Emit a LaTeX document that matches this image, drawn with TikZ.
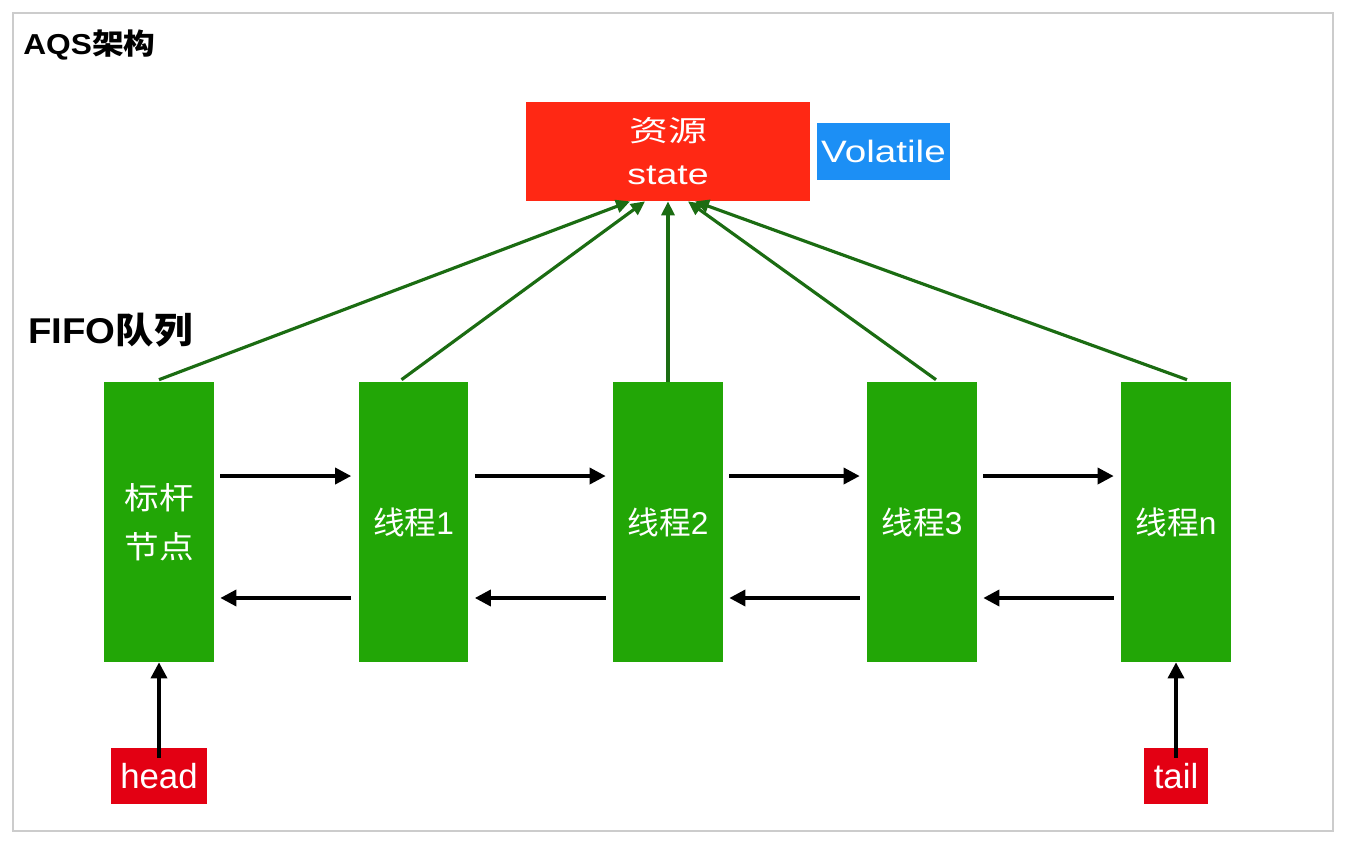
\documentclass[tikz,border=0pt]{standalone}
\usepackage{fontspec}
\setmainfont{Liberation Sans}
\newfontfamily\cjk{Noto Sans CJK SC}
\usetikzlibrary{arrows.meta}

\definecolor{boxgreen}{RGB}{34,166,6}
\definecolor{linegreen}{RGB}{27,108,18}
\definecolor{statered}{RGB}{255,40,20}
\definecolor{tagred}{RGB}{227,0,19}
\definecolor{volblue}{RGB}{28,143,245}
\definecolor{framegray}{RGB}{204,204,204}

\newcommand{\stretchx}[2]{\scalebox{#1}[1]{#2}}

\tikzset{
    qnode/.style={fill=boxgreen, text=white, minimum width=2.2cm, minimum height=5.6cm, inner sep=0pt, align=center, font=\fontsize{18}{28}\selectfont},
    tag/.style={fill=tagred, text=white, inner sep=0pt, minimum height=1.12cm, font=\fontsize{19.8}{24}\selectfont},
    link/.style={-{Triangle[length=0.32cm,width=0.32cm]}, line width=2pt},
    grab/.style={-{Triangle[length=0.28cm,width=0.26cm]}, line width=1.8pt, draw=linegreen},
}

\begin{document}
\begin{tikzpicture}[x=0.02cm, y=-0.02cm]
        \useasboundingbox (0,0) rectangle (1350,840);
        \draw[framegray, line width=1.2pt] (13,13) rectangle (1333,831);
        %titles
        \node[anchor=base west, inner sep=0pt, font=\bfseries\fontsize{16.4}{20}\selectfont] (title) at (23,54) {\stretchx{1.1}{AQS{\cjk 架构}}};
        \node[anchor=base west, inner sep=0pt, font=\bfseries\fontsize{20.4}{24}\selectfont] (fifo) at (28,343) {\stretchx{1.07}{FIFO{\cjk 队列}}};
        %resource
        \node[fill=statered, text=white, minimum width=5.68cm, minimum height=1.98cm, inner sep=0pt, align=center, font=\fontsize{16.4}{24.5}\selectfont] (state) at (668,151.5) {\stretchx{1.35}{\cjk 资源}\\\stretchx{1.3}{state}};
        \node[fill=volblue, text=white, minimum width=2.66cm, minimum height=1.14cm, inner sep=0pt, font=\fontsize{17.6}{20}\selectfont] (vol) at (883.5,151.5) {\stretchx{1.25}{Volatile}};
        %queue
        \node[qnode, font=\fontsize{17.6}{27.8}\selectfont] (b0) at (159,522) {\stretchx{1.12}{\cjk 标杆}\\\stretchx{1.12}{\cjk 节点}};
        \node[qnode] (b1) at (413.5,522) {{\cjk 线程}1};
        \node[qnode] (b2) at (668,522) {{\cjk 线程}2};
        \node[qnode] (b3) at (922,522) {{\cjk 线程}3};
        \node[qnode] (bn) at (1176,522) {{\cjk 线程}n};
        \node[tag, minimum width=1.94cm] (head) at (159,776) {head};
        \node[tag, minimum width=1.28cm] (tail) at (1176,776) {tail};
        %next / prev
        \draw[link] ([xshift=0.12cm,yshift=0.92cm]b0.east) -- ([xshift=-0.14cm,yshift=0.92cm]b1.west);
        \draw[link] ([xshift=0.12cm,yshift=0.92cm]b1.east) -- ([xshift=-0.14cm,yshift=0.92cm]b2.west);
        \draw[link] ([xshift=0.12cm,yshift=0.92cm]b2.east) -- ([xshift=-0.14cm,yshift=0.92cm]b3.west);
        \draw[link] ([xshift=0.12cm,yshift=0.92cm]b3.east) -- ([xshift=-0.14cm,yshift=0.92cm]bn.west);
        \draw[link] ([xshift=-0.14cm,yshift=-1.52cm]b1.west) -- ([xshift=0.12cm,yshift=-1.52cm]b0.east);
        \draw[link] ([xshift=-0.14cm,yshift=-1.52cm]b2.west) -- ([xshift=0.12cm,yshift=-1.52cm]b1.east);
        \draw[link] ([xshift=-0.14cm,yshift=-1.52cm]b3.west) -- ([xshift=0.12cm,yshift=-1.52cm]b2.east);
        \draw[link] ([xshift=-0.14cm,yshift=-1.52cm]bn.west) -- ([xshift=0.12cm,yshift=-1.52cm]b3.east);
        \draw[link] ([yshift=-0.2cm]head.north) -- (b0.south);
        \draw[link] ([yshift=-0.2cm]tail.north) -- (bn.south);
        %state access
        \draw[grab] ([yshift=0.04cm]b0.north) -- ([xshift=-0.76cm]state.south);
        \draw[grab] ([xshift=-0.24cm,yshift=0.04cm]b1.north) -- ([xshift=-0.46cm]state.south);
        \draw[grab] (b2.north) -- (state.south);
        \draw[grab] ([xshift=0.28cm,yshift=0.04cm]b3.north) -- ([xshift=0.4cm]state.south);
        \draw[grab] ([xshift=0.22cm,yshift=0.04cm]bn.north) -- ([xshift=0.54cm]state.south);
    \end{tikzpicture}
\end{document}
